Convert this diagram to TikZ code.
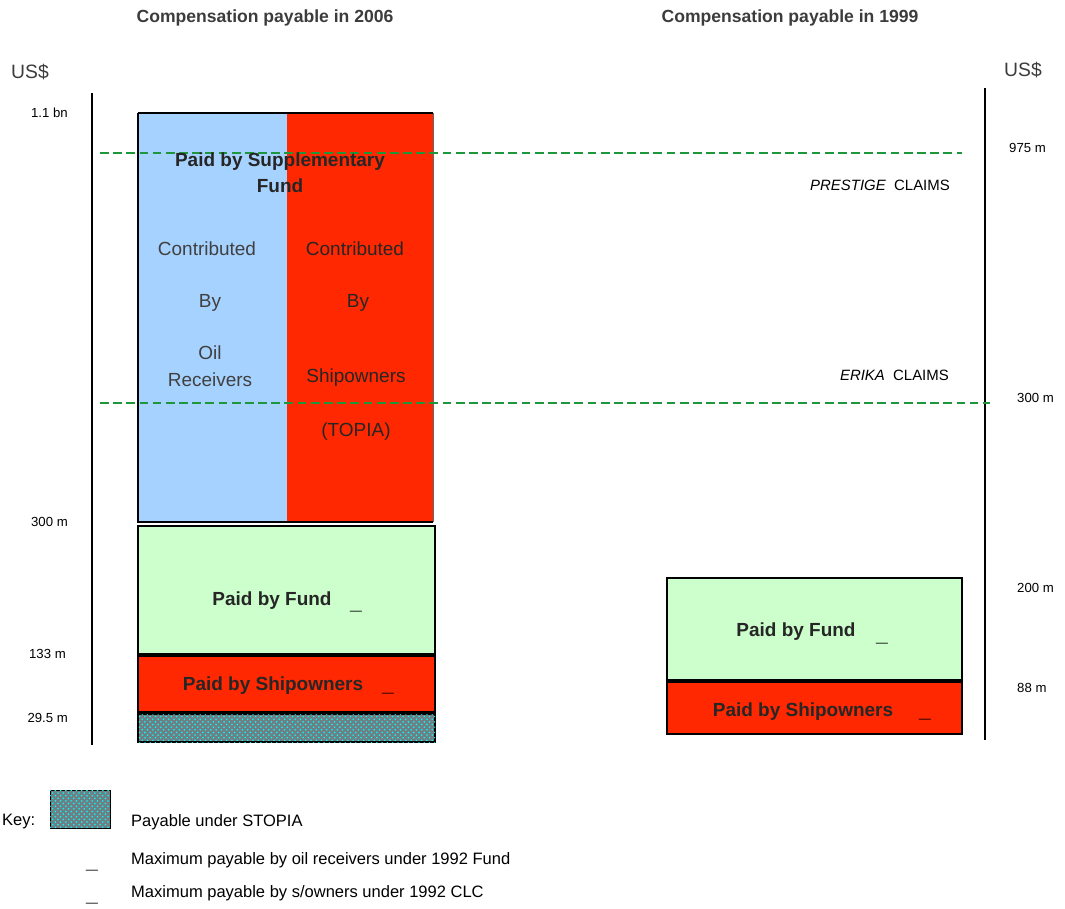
\documentclass[tikz,border=0pt]{standalone}
\usepackage{fontspec}
\setmainfont{Liberation Sans}
\usetikzlibrary{patterns}
\usetikzlibrary{positioning}
\definecolor{supblue}{RGB}{166,210,255}
\definecolor{shipred}{RGB}{255,40,0}
\definecolor{fundgreen}{RGB}{204,255,204}
\definecolor{stopiagrey}{RGB}{110,128,132}
\definecolor{claimgreen}{RGB}{30,150,60}
\definecolor{titlegrey}{RGB}{60,60,60}

\begin{document}
\begin{tikzpicture}[x=0.02cm,y=-0.02cm,
	axis/.style={line width=1.6pt},
	bar/.style={draw=black, line width=1.4pt},
	stopia/.style={fill=stopiagrey, postaction={pattern=crosshatch dots, pattern color=cyan}},
	claim/.style={claimgreen, line width=1.1pt, dash pattern=on 5pt off 2.5pt},
	title/.style={font=\bfseries\fontsize{10}{12}\selectfont, text=titlegrey},
	usd/.style={font=\fontsize{11}{13}\selectfont, text=titlegrey},
	tick/.style={font=\fontsize{7.5}{9}\selectfont},
	boxtext/.style={font=\bfseries\fontsize{10.8}{14.7}\selectfont, align=center, text=black!85},
	maxmark/.style={font=\bfseries\fontsize{12}{14}\selectfont, text=black},
	contrib/.style={font=\fontsize{10.8}{15.3}\selectfont, align=center, text=black!75},
	claimtext/.style={font=\fontsize{8.5}{10}\selectfont, anchor=east},
	legend/.style={font=\fontsize{9.4}{11}\selectfont, anchor=west}]
		\useasboundingbox (0,0) rectangle (1065,909);

		% titles
		\node[title] (t2006) at (265,18) {Compensation payable in 2006};
		\node[title] (t1999) at (790,18) {Compensation payable in 1999};
		\node[usd] (usl) at (30,72) {US\$};
		\node[usd] (usr) at (1023,70) {US\$};

		% axes
		\draw[axis] (92,93) -- (92,745);
		\draw[axis] (985,88) -- (985,740);

		% 2006 bar
		\fill[supblue] (138,113) rectangle (287,522);
		\fill[shipred] (287,113) rectangle (433,522);
		\draw[bar] (138,113) -- (433,113);
		\draw[bar] (138,113) -- (138,522) -- (433,522);
		\draw[black!60, thin] (433,113) -- (433,522);
		\draw[bar, fill=fundgreen] (138,526) rectangle (435,654);
		\draw[bar, fill=shipred] (138,656) rectangle (435,712);
		\draw[bar, stopia] (138,714) rectangle (435,742);

		% 1999 bar
		\draw[bar, fill=fundgreen] (667,578) rectangle (962,680);
		\draw[bar, fill=shipred] (667,682) rectangle (962,734);

		% claims
		\coordinate (prestigeL) at (100,153);
		\coordinate (prestigeR) at (962,153);
		\coordinate (erikaL) at (100,403);
		\coordinate (erikaR) at (990,403);
		\draw[claim] (prestigeL) -- (prestigeR);
		\draw[claim] (erikaL) -- (erikaR);
		\node[claimtext] (prestige) at (956,185) {\textit{PRESTIGE}\ \ CLAIMS};
		\node[claimtext] (erika) at (955,375) {\textit{ERIKA}\ \ CLAIMS};

		% texts in bars
		\node[boxtext] (supp) at (280,173) {Paid by Supplementary\\Fund};
		\node[contrib] (contribA) at (207,249) {Contributed};
		\node[contrib] (byA) at (210,303) {By};
		\node[contrib] (oil) at (210,366) {Oil\\Receivers};
		\node[contrib, text=black!85] (contribB) at (355,249) {Contributed};
		\node[contrib, text=black!85] (byB) at (358,303) {By};
		\node[contrib, text=black!85] (ship) at (356,378) {Shipowners};
		\node[contrib, text=black!85] (topia) at (356,432) {(TOPIA)};

		\node[boxtext] (fundA) at (272,601) {Paid by Fund};
		\node[maxmark] (fundAmark) at (356,611) {\_};
		\node[boxtext] (shipA) at (273,686) {Paid by Shipowners};
		\node[maxmark] (shipAmark) at (388,693) {\_};
		\node[boxtext] (fundB) at (796,632) {Paid by Fund};
		\node[maxmark] (fundBmark) at (882,643) {\_};
		\node[boxtext] (shipB) at (803,712) {Paid by Shipowners};
		\node[maxmark] (shipBmark) at (925,719) {\_};

		% axis labels
		\node[tick, anchor=east] (l1) at (74,113) {1.1 bn};
		\node[tick, anchor=east] (l2) at (74,522) {300 m};
		\node[tick, anchor=east] (l3) at (72,654) {133 m};
		\node[tick, anchor=east] (l4) at (74,718) {29.5 m};
		\node[tick, anchor=west] (r1) at (1003,148) {975 m};
		\node[tick, anchor=west] (r2) at (1011,398) {300 m};
		\node[tick, anchor=west] (r3) at (1011,588) {200 m};
		\node[tick, anchor=west] (r4) at (1011,688) {88 m};

		% key
		\node[legend, inner sep=1pt] (key) at (0,822) {Key:};
		\draw[thin, stopia] (50,790) rectangle (110,828);
		\node[legend] (k1) at (125,822) {Payable under STOPIA};
		\node[maxmark] (k2mark) at (92,870) {\_};
		\node[legend] (k2) at (125,860) {Maximum payable by oil receivers under 1992 Fund};
		\node[maxmark] (k3mark) at (92,903) {\_};
		\node[legend] (k3) at (125,893) {Maximum payable by s/owners under 1992 CLC};
	\end{tikzpicture}
\end{document}
